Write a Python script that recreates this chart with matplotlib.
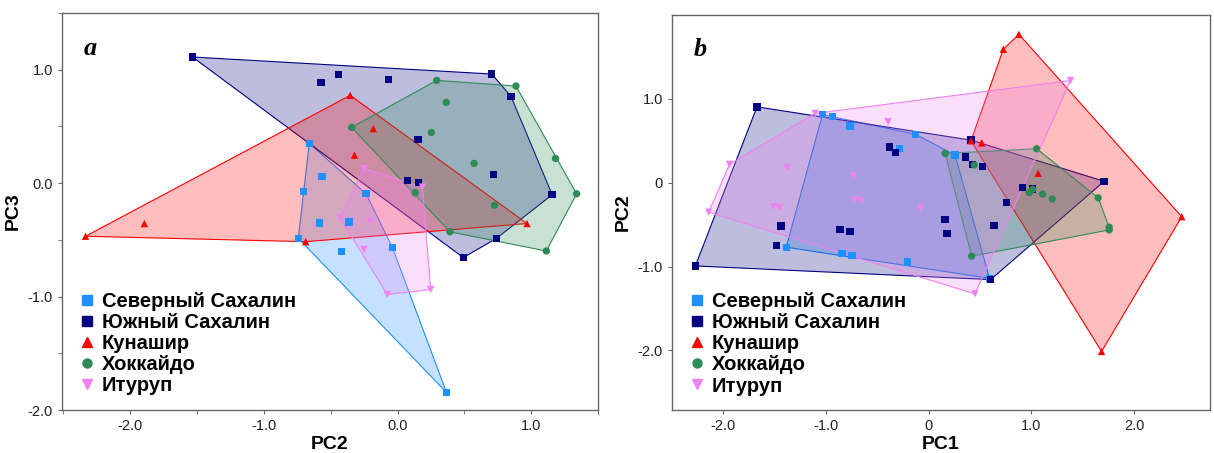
import numpy as np
import matplotlib
matplotlib.use("Agg")
import matplotlib.pyplot as plt
from matplotlib.lines import Line2D

plt.rcParams['font.family'] = ['Liberation Sans', 'DejaVu Sans']

groups = ['Северный Сахалин', 'Южный Сахалин', 'Кунашир', 'Хоккайдо', 'Итуруп']
colors = ['#1E90FF', '#000080', '#FF0000', '#2E8B57', '#EE82EE']
markers = ['s', 's', '^', 'o', 'v']

# panel a: PC2 (x) vs PC3 (y)
a_nsakh_x = [-0.660, -0.566, -0.702, -0.585, -0.363, -0.235, -0.421, -0.038, -0.742, 0.366]
a_nsakh_y = [0.350, 0.056, -0.073, -0.350, -0.344, -0.094, -0.600, -0.568, -0.486, -1.845]
a_ssakh_x = [-1.534, -0.573, -0.444, -0.069, 0.705, 0.849, 0.154, 0.077, 0.159, 0.720, 1.157, 0.739, 0.492]
a_ssakh_y = [1.112, 0.886, 0.955, 0.915, 0.962, 0.765, 0.386, 0.021, 0.004, 0.074, -0.102, -0.488, -0.656]
a_kun_x = [-2.334, -1.894, -0.354, -0.181, -0.322, -0.687, 0.969]
a_kun_y = [-0.468, -0.356, 0.774, 0.480, 0.247, -0.516, -0.356]
a_hok_x = [0.293, 0.886, 0.365, -0.343, 0.253, 0.573, 1.182, 1.340, 0.132, 0.725, 0.392, 1.113]
a_hok_y = [0.906, 0.856, 0.712, 0.492, 0.447, 0.174, 0.218, -0.094, -0.085, -0.195, -0.429, -0.598]
a_itu_x = [-0.250, 0.186, -0.429, -0.206, -0.251, -0.077, 0.248]
a_itu_y = [0.127, -0.035, -0.307, -0.334, -0.585, -0.982, -0.938]

# panel b: PC1 (x) vs PC2 (y)
b_nsakh_x = [-1.034, -0.937, -0.765, -0.125, -0.285, -1.387, -0.845, -0.748, -0.207, 0.257, 0.592]
b_nsakh_y = [0.814, 0.786, 0.675, 0.576, 0.405, -0.769, -0.840, -0.869, -0.944, 0.330, -1.140]
b_ssakh_x = [-1.672, -2.272, -0.382, -0.320, -1.439, -1.484, -0.862, -0.765, 0.160, 0.179,
             0.412, 0.357, 0.429, 0.526, 0.915, 1.013, 1.709, 0.760, 0.636, 0.604]
b_ssakh_y = [0.905, -0.992, 0.425, 0.362, -0.515, -0.745, -0.555, -0.579, -0.436, -0.602,
             0.508, 0.306, 0.219, 0.190, -0.055, -0.075, 0.017, -0.233, -0.507, -1.155]
b_kun_x = [0.879, 0.727, 0.412, 0.517, 1.067, 2.465, 1.684]
b_kun_y = [1.770, 1.592, 0.500, 0.476, 0.112, -0.405, -2.012]
b_hok_x = [0.160, 1.052, 0.445, 0.980, 1.013, 1.110, 1.203, 1.651, 1.758, 1.758, 0.419]
b_hok_y = [0.350, 0.405, 0.211, -0.119, -0.079, -0.135, -0.194, -0.179, -0.531, -0.563, -0.876]
b_itu_x = [-1.105, -0.395, -1.939, -1.375, -0.732, -2.143, -1.511, -1.452, -0.719, -0.651, -0.079, 1.382, 0.451]
b_itu_y = [0.826, 0.726, 0.219, 0.179, 0.080, -0.352, -0.286, -0.298, -0.206, -0.218, -0.305, 1.219, -1.325]


def hull(xs, ys):
    pts = sorted(set(zip(xs, ys)))

    def cross(o, a, b):
        return (a[0] - o[0]) * (b[1] - o[1]) - (a[1] - o[1]) * (b[0] - o[0])

    lower = []
    for p in pts:
        while len(lower) >= 2 and cross(lower[-2], lower[-1], p) <= 0:
            lower.pop()
        lower.append(p)
    upper = []
    for p in reversed(pts):
        while len(upper) >= 2 and cross(upper[-2], upper[-1], p) <= 0:
            upper.pop()
        upper.append(p)
    h = lower[:-1] + upper[:-1]
    return [p[0] for p in h], [p[1] for p in h]


def draw_panel(ax, data, letter):
    for (xs, ys), c in zip(data, colors):
        hx, hy = hull(xs, ys)
        ax.fill(hx, hy, facecolor=matplotlib.colors.to_rgba(c, 0.26),
                edgecolor=c, lw=0.8, zorder=2)
    for (xs, ys), c, m in zip(data, colors, markers):
        ax.scatter(xs, ys, s=28, c=c, marker=m, edgecolors='none', zorder=3)
    for s in ax.spines.values():
        s.set_color('#666666')
        s.set_linewidth(1.0)
    ax.tick_params(which='both', direction='out', length=3, color='#666666',
                   labelsize=10.5, labelcolor='#222222')
    ax.text(0.04, 0.895, letter, transform=ax.transAxes, fontsize=19,
            family='Liberation Serif', weight='bold', style='italic', va='baseline')
    handles = [Line2D([], [], ls='none', marker=m, color=c, markersize=6.5)
               for c, m in zip(colors, markers)]
    ax.legend(handles, groups, loc='upper left', bbox_to_anchor=(0.02, 0.318),
              frameon=False, prop={'weight': 'bold', 'size': 14.5},
              handlelength=0.6, handletextpad=0.45, labelspacing=0.1, borderaxespad=0)


fig = plt.figure(figsize=(12.14, 4.53), dpi=100)
ax1 = fig.add_axes([0.0511, 0.0949, 0.4415, 0.8764])
ax2 = fig.add_axes([0.5535, 0.0949, 0.4432, 0.8720])

draw_panel(ax1, [(a_nsakh_x, a_nsakh_y), (a_ssakh_x, a_ssakh_y), (a_kun_x, a_kun_y),
                 (a_hok_x, a_hok_y), (a_itu_x, a_itu_y)], 'a')
ax1.set_xlim(-2.51, 1.48)
ax1.set_ylim(-2.0, 1.5)
ax1.set_xticks([-2, -1, 0, 1], ['-2.0', '-1.0', '0.0', '1.0'])
ax1.set_xticks(np.arange(-2.5, 1.6, 0.5), minor=True)
ax1.set_yticks([-2, -1, 0, 1], ['-2.0', '-1.0', '0.0', '1.0'])
ax1.set_yticks(np.arange(-2.0, 1.6, 0.5), minor=True)
ax1.set_xlabel('PC2', fontsize=14, weight='bold', labelpad=2)
ax1.set_ylabel('PC3', fontsize=14, weight='bold', labelpad=4)

draw_panel(ax2, [(b_nsakh_x, b_nsakh_y), (b_ssakh_x, b_ssakh_y), (b_kun_x, b_kun_y),
                 (b_hok_x, b_hok_y), (b_itu_x, b_itu_y)], 'b')
ax2.set_xlim(-2.5, 2.74)
ax2.set_ylim(-2.71, 2.0)
ax2.set_xticks([-2, -1, 0, 1, 2], ['-2.0', '-1.0', '0', '1.0', '2.0'])
ax2.set_yticks([-2, -1, 0, 1], ['-2.0', '-1.0', '0', '1.0'])
ax2.set_xlabel('PC1', fontsize=14, weight='bold', labelpad=2)
ax2.set_ylabel('PC2', fontsize=14, weight='bold', labelpad=4)

fig.savefig('out.png', dpi=100)
